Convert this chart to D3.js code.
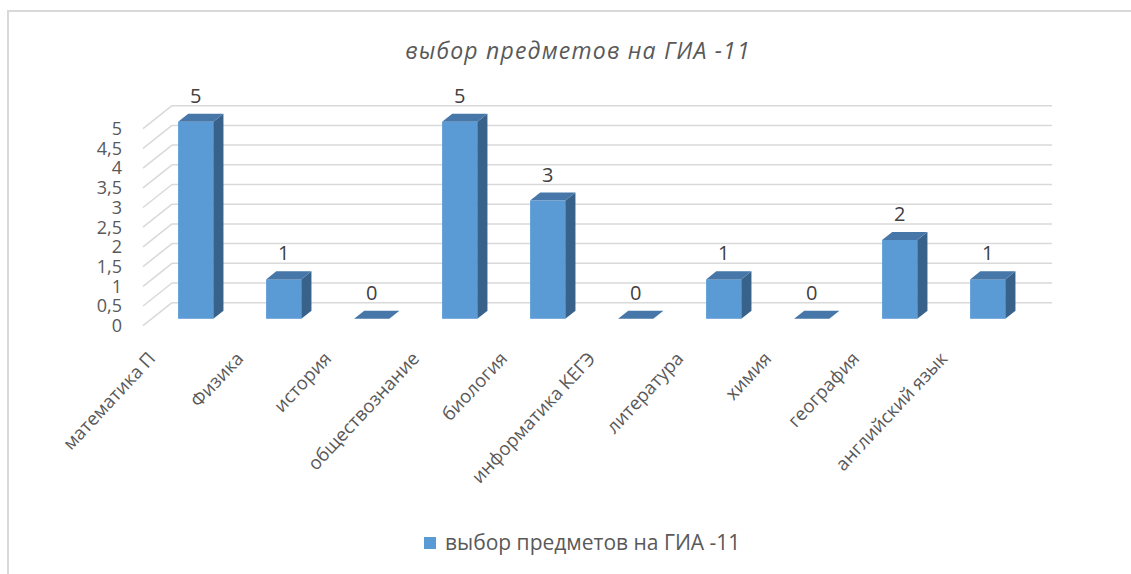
<!DOCTYPE html>
<html>
<head>
<meta charset="utf-8">
<script src="https://cdn.jsdelivr.net/npm/d3@7"></script>
<style>
  body { margin: 0; background: #fff; }
  text { font-family: "Open Sans", "Noto Sans", sans-serif; fill: #595959; }
</style>
</head>
<body>
<div id="chart"></div>
<script>
// data
var categories = ["математика П", "Физика", "история", "обществознание", "биология",
                  "информатика КЕГЭ", "литература", "химия", "география", "английский язык"];
var values = [5, 1, 0, 5, 3, 0, 1, 0, 2, 1];
var yTicks = [0, 0.5, 1, 1.5, 2, 2.5, 3, 3.5, 4, 4.5, 5];
var seriesName = "выбор предметов на ГИА -11";
var chartTitle = "выбор предметов на ГИА -11";

var width = 1131, height = 574;

// back wall of the 3d plot
var x = d3.scaleBand().domain(categories).range([172, 1052]);
var y = d3.scaleLinear().domain([0, 5]).range([302.7, 105.7]);

// oblique depth: from the back wall (0) to the front of the floor (1)
var depthX = -29, depthY = 23;
var barFront = 0.7, barBack = 0.35;
function proj(px, py, d) { return [px + depthX * d, py + depthY * d]; }

var comma = d3.formatLocale({decimal: ",", thousands: " ", grouping: [3], currency: ["", ""]}).format("~g");

var svg = d3.select("#chart").append("svg")
  .attr("width", width)
  .attr("height", height);

// outer frame
svg.append("rect")
  .attr("x", 8).attr("y", 11)
  .attr("width", 1140).attr("height", 600)
  .style("fill", "none")
  .style("stroke", "#D9D9D9")
  .style("stroke-width", 2);

// title
svg.append("text")
  .attr("x", 578).attr("y", 51)
  .attr("dy", "0.35em")
  .style("text-anchor", "middle")
  .style("font-size", "23px")
  .style("letter-spacing", "1.2px")
  .style("font-style", "italic")
  .text(chartTitle);

// gridlines: back wall and left side wall
var grid = svg.append("g").attr("class", "grid")
  .style("stroke", "#D9D9D9")
  .style("stroke-width", 1.5)
  .style("fill", "none");

grid.selectAll(".back").data(yTicks).enter().append("line")
  .attr("x1", x.range()[0]).attr("x2", x.range()[1])
  .attr("y1", function(d) { return y(d); })
  .attr("y2", function(d) { return y(d); });

grid.selectAll(".side").data(yTicks).enter().append("line")
  .attr("x1", x.range()[0]).attr("y1", function(d) { return y(d); })
  .attr("x2", function(d) { return proj(x.range()[0], y(d), 1)[0]; })
  .attr("y2", function(d) { return proj(x.range()[0], y(d), 1)[1]; });

// y tick labels at the front edge
svg.selectAll(".ytick").data(yTicks).enter().append("text")
  .attr("class", "ytick")
  .attr("x", 122)
  .attr("y", function(d) { return proj(0, y(d), 1)[1]; })
  .attr("dy", "0.35em")
  .style("text-anchor", "end")
  .style("font-size", "18px")
  .text(function(d) { return comma(d); });

// bars
var bw = x.bandwidth() * 0.4;
var bars = svg.selectAll(".bar")
  .data(categories.map(function(c, i) { return {cat: c, value: values[i]}; }))
  .enter().append("g")
  .attr("class", "bar");

function poly(pts) { return "M" + pts.map(function(p) { return p.join(","); }).join("L") + "Z"; }

bars.each(function(d) {
  var g = d3.select(this);
  var cx = x(d.cat) + x.bandwidth() / 2;
  var x0 = cx - bw / 2, x1 = cx + bw / 2;
  var yt = y(d.value), yb = y(0);

  // front face
  var f0 = proj(x0, yt, barFront), f1 = proj(x1, yb, barFront);
  g.append("rect")
    .attr("x", f0[0]).attr("y", f0[1])
    .attr("width", f1[0] - f0[0]).attr("height", f1[1] - f0[1])
    .style("fill", "#5B9BD5");

  // right side
  g.append("path")
    .attr("d", poly([proj(x1, yt, barFront), proj(x1, yt, barBack), proj(x1, yb, barBack), proj(x1, yb, barFront)]))
    .style("fill", "#386289");

  // top
  g.append("path")
    .attr("d", poly([proj(x0, yt, barFront), proj(x1, yt, barFront), proj(x1, yt, barBack), proj(x0, yt, barBack)]))
    .style("fill", "#4677A8");

  // value label
  var c = proj(cx, yt, barFront);
  g.append("text")
    .attr("x", c[0]).attr("y", c[1] - 19)
    .style("text-anchor", "middle")
    .style("font-size", "20px")
    .style("fill", "#404040")
    .text(d.value);
});

// category labels, rotated
svg.selectAll(".xtick").data(categories).enter().append("text")
  .attr("class", "xtick")
  .attr("transform", function(d) {
    var p = proj(x(d) + x.bandwidth() / 2, y(0), barFront);
    return "translate(" + (p[0] - 44) + ",355) rotate(-47)";
  })
  .attr("dy", "0.35em")
  .style("text-anchor", "end")
  .style("font-size", "18.5px")
  .text(function(d) { return d; });

// legend
var legend = svg.append("g").attr("transform", "translate(424,537)");
legend.append("rect")
  .attr("width", 12).attr("height", 12)
  .style("fill", "#5B9BD5");
legend.append("text")
  .attr("x", 21).attr("y", 6)
  .attr("dy", "0.35em")
  .style("font-size", "21px")
  .text(seriesName);
</script>
</body>
</html>
